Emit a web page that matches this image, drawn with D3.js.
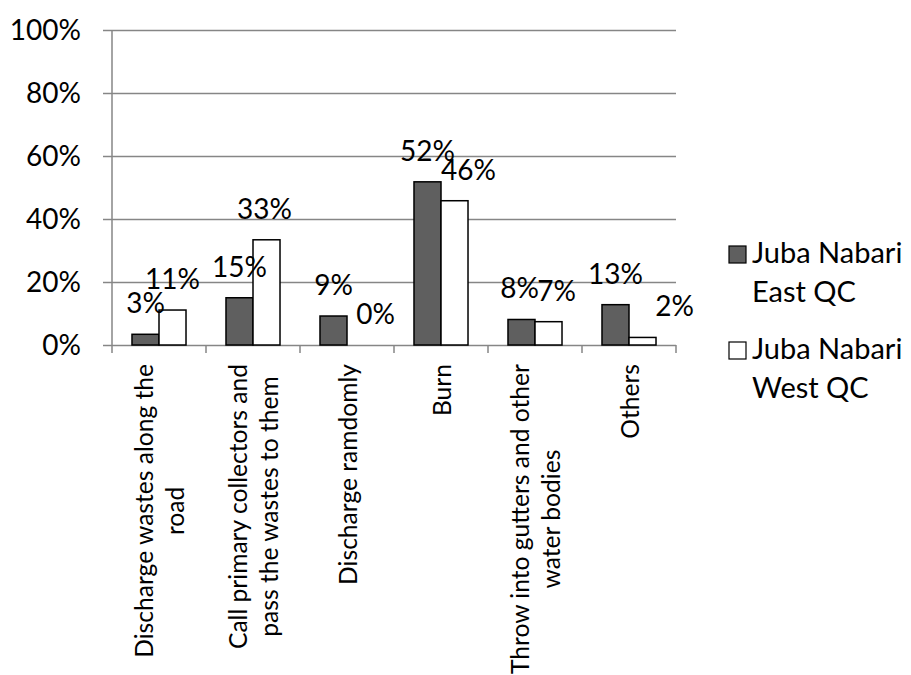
<!DOCTYPE html>
<html>
<head>
<meta charset="utf-8">
<script src="https://cdn.jsdelivr.net/npm/d3@7"></script>
<style>
  html, body { margin: 0; padding: 0; background: #fff; }
  svg { display: block; }
  text { font-family: Lato, "Open Sans", sans-serif; fill: #000; }
</style>
</head>
<body>
<svg id="chart" width="911" height="675"></svg>
<script>
// ---- data ----
const categories = [
  "Discharge wastes along the road",
  "Call primary collectors and pass the wastes to them",
  "Discharge ramdomly",
  "Burn",
  "Throw into gutters and other water bodies",
  "Others"
];
const categoryLines = [
  ["Discharge wastes along the", "road"],
  ["Call primary collectors and", "pass the wastes to them"],
  ["Discharge ramdomly"],
  ["Burn"],
  ["Throw into gutters and other", "water bodies"],
  ["Others"]
];
const seriesNames = ["Juba Nabari East QC", "Juba Nabari West QC"];
const legendLines = [["Juba Nabari", "East QC"], ["Juba Nabari", "West QC"]];
const eastValues = [3.4, 15.0, 9.2, 51.8, 8.1, 12.8];
const westValues = [11.1, 33.4, 0.0, 45.8, 7.4, 2.4];
const yTicks = [0, 20, 40, 60, 80, 100];

// ---- style / layout ----
const colors = ["#5f5f5f", "#ffffff"];
const labelNudgeX = [[0, 0, 0, 0, -2, 0], [0, -2, 15, 14, 8, 32]];
const plot = { left: 112, right: 676, top: 30, bottom: 345 };

const svg = d3.select("#chart");
const x = d3.scaleBand().domain(categories).range([plot.left, plot.right]).paddingInner(0).paddingOuter(0);
const xs = d3.scaleBand().domain(seriesNames).range([0, x.bandwidth()]).paddingInner(0).paddingOuter(0.74);
const y = d3.scaleLinear().domain([0, 100]).range([plot.bottom, plot.top]);

// gridlines + y axis tick labels
const yAxis = d3.axisLeft(y).tickValues(yTicks).tickSize(plot.right - plot.left + 9).tickFormat(d => d + "%");
const gy = svg.append("g").attr("transform", `translate(${plot.right},0)`).call(yAxis);
gy.select(".domain").remove();
gy.selectAll(".tick line").attr("stroke", "#868686").attr("stroke-width", 1.5);
gy.selectAll(".tick text").attr("x", -(plot.right - plot.left) - 31)
  .style("font-size", "28px").attr("dy", "0.35em").attr("text-anchor", "end");

// y axis vertical line
svg.append("line").attr("x1", plot.left).attr("x2", plot.left)
  .attr("y1", y(100)).attr("y2", y(0)).attr("stroke", "#868686").attr("stroke-width", 1.5);

// x axis ticks at category boundaries
const bounds = categories.map(c => x(c)).concat([plot.right]);
svg.append("g").selectAll("line").data(bounds).join("line")
  .attr("x1", d => d).attr("x2", d => d).attr("y1", y(0)).attr("y2", y(0) + 8)
  .attr("stroke", "#868686").attr("stroke-width", 1.5);

// bars
const series = [eastValues, westValues];
series.forEach((vals, si) => {
  const rows = vals.map((v, i) => ({ v, cat: categories[i] })).filter(d => d.v > 0);
  svg.append("g").selectAll("rect").data(rows).join("rect")
    .attr("x", d => x(d.cat) + xs(seriesNames[si]))
    .attr("y", d => y(d.v))
    .attr("width", xs.bandwidth())
    .attr("height", d => y(0) - y(d.v))
    .attr("fill", colors[si]).attr("stroke", "#000").attr("stroke-width", 1.5);
});

// data labels
series.forEach((vals, si) => {
  svg.append("g").selectAll("text").data(vals).join("text")
    .attr("x", (d, i) => x(categories[i]) + xs(seriesNames[si]) + xs.bandwidth() / 2 + labelNudgeX[si][i])
    .attr("y", d => y(d) - 21)
    .attr("text-anchor", "middle")
    .style("font-size", "28px")
    .text(d => d3.format(".0f")(d) + "%");
});

// category labels (rotated)
const lineH = 31;
categoryLines.forEach((lines, ci) => {
  const cx = x(categories[ci]) + x.bandwidth() / 2;
  const g = svg.append("g");
  const texts = g.selectAll("text").data(lines).join("text")
    .style("font-size", "24.6px")
    .attr("text-anchor", "middle")
    .attr("dominant-baseline", "central")
    .text(d => d);
  const maxW = d3.max(texts.nodes(), n => n.getComputedTextLength());
  const cy = 364 + maxW / 2;
  texts.attr("transform", (d, i) => {
    const lx = cx + (i - (lines.length - 1) / 2) * lineH;
    return `translate(${lx},${cy}) rotate(-90)`;
  });
});

// legend
const legend = svg.append("g");
legendLines.forEach((lines, si) => {
  const top = 246 + si * 96;
  legend.append("rect").attr("x", 729).attr("y", top).attr("width", 17).attr("height", 17)
    .attr("fill", colors[si]).attr("stroke", "#000").attr("stroke-width", 1.2);
  lines.forEach((t, li) => {
    legend.append("text").attr("x", 752).attr("y", top + 17 + li * 38.5)
      .style("font-size", "29px").text(t);
  });
});
</script>
</body>
</html>
